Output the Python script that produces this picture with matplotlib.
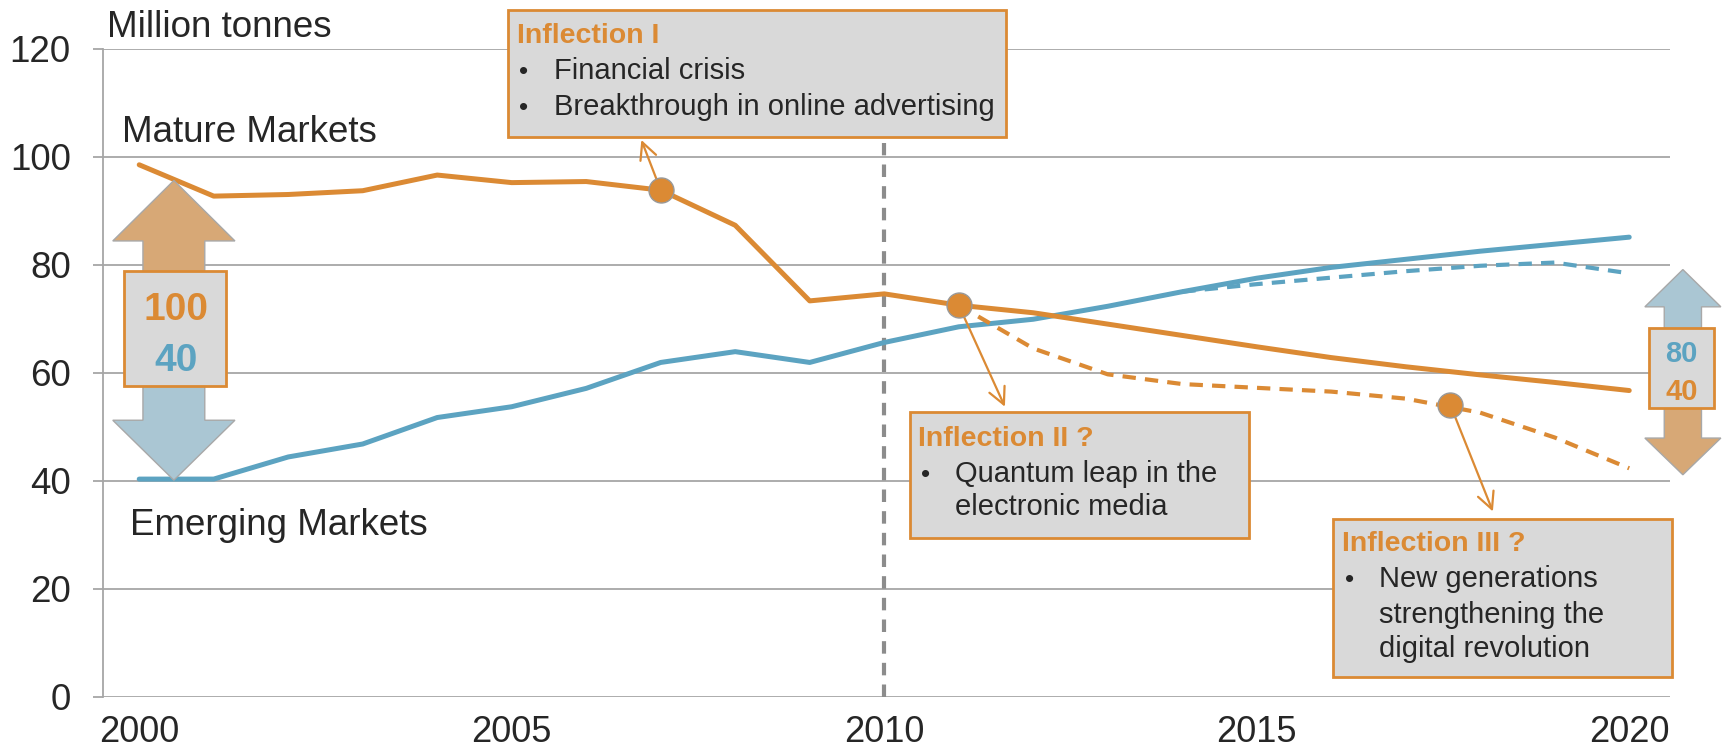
import matplotlib
matplotlib.use("Agg")
import matplotlib.pyplot as plt
from matplotlib.patches import Rectangle, FancyArrow

plt.rcParams['font.family'] = ['Liberation Sans', 'DejaVu Sans']

# data (million tonnes)
years = [2000, 2001, 2002, 2003, 2004, 2005, 2006, 2007, 2008, 2009, 2010,
         2011, 2012, 2013, 2014, 2015, 2016, 2017, 2018, 2019, 2020]
mature = [98.5, 92.7, 93.0, 93.7, 96.6, 95.2, 95.4, 93.8, 87.3, 73.3, 74.6,
          72.5, 71.1, 69.0, 66.9, 64.8, 62.8, 61.1, 59.6, 58.2, 56.7]
emerging = [40.3, 40.3, 44.4, 46.8, 51.7, 53.7, 57.1, 61.9, 63.9, 61.9, 65.6,
            68.5, 69.9, 72.3, 75.0, 77.5, 79.5, 81.0, 82.5, 83.8, 85.1]

# alternative scenarios
mature_alt_years = [2011, 2012, 2013, 2014, 2015, 2016, 2017, 2018, 2019, 2020]
mature_alt = [72.5, 64.5, 59.7, 57.9, 57.2, 56.5, 55.2, 52.6, 48.0, 42.3]
emerging_alt_years = [2014, 2015, 2016, 2017, 2018, 2019, 2020]
emerging_alt = [75.0, 76.4, 77.6, 78.8, 79.8, 80.4, 78.4]

# inflection points
infl_x = [2007, 2011, 2017.6]
infl_y = [93.8, 72.5, 54.0]

orange = '#DB8A34'
blue = '#5CA3C1'
tan = '#D7A876'
lightblue = '#AAC6D3'
grey = '#A6A6A6'
boxgrey = '#D9D9D9'
textc = '#262626'

fig = plt.figure(figsize=(17.25, 7.56), dpi=100)
ax = fig.add_axes([0.0595, 0.0784, 0.9086, 0.8572])
ax.set_xlim(1999.509, 2020.547)
ax.set_ylim(0, 120)

# grid and axes
for v in range(0, 121, 20):
    ax.axhline(v, color=grey, lw=1.3, zorder=1)
for s in ['top', 'right', 'bottom']:
    ax.spines[s].set_visible(False)
ax.spines['left'].set_color(grey)
ax.spines['left'].set_linewidth(1.3)
ax.set_yticks(range(0, 121, 20))
ax.set_xticks([2000, 2005, 2010, 2015, 2020])
ax.tick_params(axis='y', length=7, width=1.3, color=grey, pad=16,
               labelsize=26.5, labelcolor=textc)
ax.tick_params(axis='x', length=0, pad=13.5, labelsize=26, labelcolor=textc)

ax.axvline(2010, ymax=102.5 / 120, color='#8C8C8C', lw=3, dashes=(3, 2.2), zorder=2)

# lines
ax.plot(years, mature, color=orange, lw=3.6, zorder=4, solid_capstyle='round')
ax.plot(years, emerging, color=blue, lw=3.6, zorder=3, solid_capstyle='round')
ax.plot(mature_alt_years, mature_alt, color=orange, lw=3, dashes=(3.2, 2.2), zorder=4)
ax.plot(emerging_alt_years, emerging_alt, color=blue, lw=3, dashes=(3.2, 2.2), zorder=3)

ax.plot(infl_x, infl_y, 'o', color=orange, markersize=18, markeredgecolor='#999999',
        markeredgewidth=1, zorder=6)

# callout arrows
heads = [(2006.74, 103.1), (2011.62, 53.7), (2018.17, 34.3)]
for (hx, hy), x0, y0 in zip(heads, infl_x, infl_y):
    ax.annotate('', xy=(hx, hy), xytext=(x0, y0), annotation_clip=False,
                arrowprops=dict(arrowstyle='->', color=orange, lw=1.6,
                                shrinkA=0, shrinkB=0, mutation_scale=30),
                zorder=5)

# callout boxes
def box(x0, x1, y0, y1, lw=2):
    ax.add_patch(Rectangle((x0, y0), x1 - x0, y1 - y0, facecolor=boxgrey,
                           edgecolor=orange, lw=lw, clip_on=False, zorder=7))

def callout(x0, x1, y0, y1, title, tx, ty, bullets, bx, lines_y):
    box(x0, x1, y0, y1)
    ax.text(tx, ty, title, color=orange, fontsize=20.5, fontweight='bold',
            va='baseline', zorder=8, clip_on=False)
    for txt, ly in zip(bullets, lines_y):
        if txt[0] == '\u2022':
            ax.text(tx + 0.03, ly, '\u2022', color=textc, fontsize=19,
                    va='baseline', zorder=8, clip_on=False)
            txt = txt[1:]
        ax.text(bx, ly, txt, color=textc, fontsize=21, va='baseline',
                zorder=8, clip_on=False)

callout(2004.95, 2011.63, 103.7, 127.2, 'Inflection I', 2005.07, 121.0,
        ['\u2022Financial crisis', '\u2022Breakthrough in online advertising'],
        2005.57, [114.3, 107.8])
callout(2010.34, 2014.89, 29.3, 52.7, 'Inflection II ?', 2010.46, 46.5,
        ['\u2022Quantum leap in the', 'electronic media'],
        2010.95, [39.8, 33.6])
callout(2016.02, 2020.58, 3.7, 33.0, 'Inflection III ?', 2016.15, 26.9,
        ['\u2022New generations', 'strengthening the', 'digital revolution'],
        2016.64, [20.3, 13.7, 7.3])

# left range arrows
ax.add_patch(FancyArrow(2000.465, 70, 0, 95.6 - 70, width=0.83, head_width=1.64,
                        head_length=11.2, length_includes_head=True, facecolor=tan,
                        edgecolor='#A8A8A8', lw=1, zorder=5, clip_on=False))
ax.add_patch(FancyArrow(2000.465, 65, 0, 40.1 - 65, width=0.83, head_width=1.64,
                        head_length=11.1, length_includes_head=True, facecolor=lightblue,
                        edgecolor='#A8A8A8', lw=1, zorder=5, clip_on=False))
box(1999.79, 2001.16, 57.6, 78.8)
ax.text(2000.49, 69.8, '100', color=orange, fontsize=28, fontweight='bold',
        ha='center', va='baseline', zorder=8)
ax.text(2000.49, 60.3, '40', color=blue, fontsize=28, fontweight='bold',
        ha='center', va='baseline', zorder=8)

# right range arrows
ax.add_patch(FancyArrow(2020.72, 60, 0, 79.1 - 60, width=0.5, head_width=1.02,
                        head_length=6.9, length_includes_head=True, facecolor=lightblue,
                        edgecolor='#A8A8A8', lw=1, zorder=5, clip_on=False))
ax.add_patch(FancyArrow(2020.72, 62, 0, 41.1 - 62, width=0.5, head_width=1.02,
                        head_length=6.8, length_includes_head=True, facecolor=tan,
                        edgecolor='#A8A8A8', lw=1, zorder=5, clip_on=False))
box(2020.27, 2021.14, 53.4, 68.3)
ax.text(2020.705, 62.0, '80', color=blue, fontsize=21, fontweight='bold',
        ha='center', va='baseline', zorder=8, clip_on=False)
ax.text(2020.705, 54.9, '40', color=orange, fontsize=21, fontweight='bold',
        ha='center', va='baseline', zorder=8, clip_on=False)

# labels
ax.text(1999.57, 122.2, 'Million tonnes', fontsize=26.5, color=textc,
        va='baseline', clip_on=False)
ax.text(1999.77, 102.8, 'Mature Markets', fontsize=26.5, color=textc, va='baseline')
ax.text(1999.88, 29.9, 'Emerging Markets', fontsize=26.5, color=textc, va='baseline')

fig.savefig('out.png', dpi=100)
